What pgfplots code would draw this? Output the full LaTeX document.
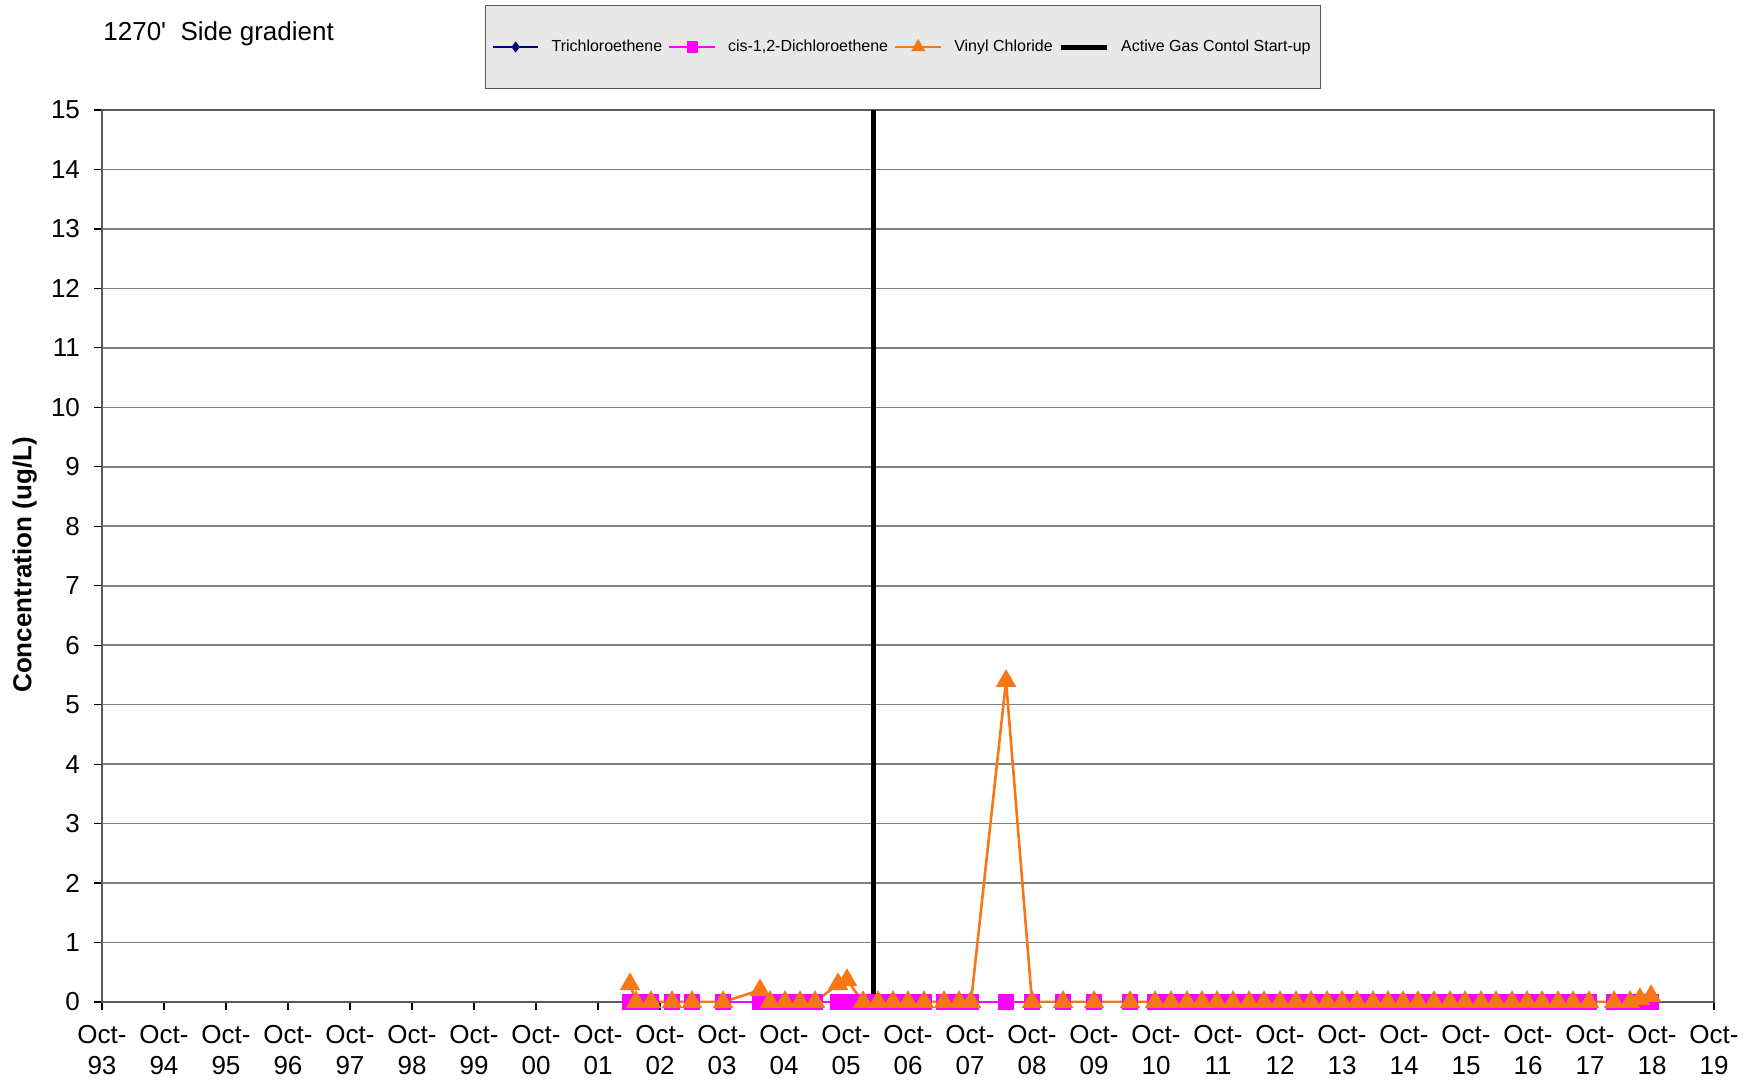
\documentclass[border=0pt]{standalone}
\usepackage{pgfplots}
\usepackage{pgfplotstable}
\pgfplotsset{compat=1.18}
\usepackage{fontspec}
\setmainfont{Liberation Sans}
\definecolor{tceblue}{RGB}{0,0,128}
\definecolor{dcemag}{RGB}{255,0,255}
\definecolor{vcorange}{RGB}{247,118,22}
\definecolor{gridgray}{RGB}{128,128,128}
\definecolor{legfill}{RGB}{232,232,232}

\pgfplotstableread{
x y
8.516 0
8.613 0
8.855 0
9.194 0
9.516 0
10.016 0
10.613 0
10.774 0
11.016 0
11.258 0
11.500 0
11.871 0
12.016 0
12.274 0
12.516 0
12.758 0
13.000 0
13.258 0
13.581 0
13.823 0
14.016 0
14.581 0
15.000 0
15.500 0
16.000 0
16.581 0
16.984 0
17.242 0
17.500 0
17.742 0
17.984 0
18.242 0
18.500 0
18.742 0
19.000 0
19.258 0
19.500 0
19.758 0
20.000 0
20.242 0
20.500 0
20.742 0
20.984 0
21.226 0
21.484 0
21.742 0
21.984 0
22.242 0
22.484 0
22.742 0
22.984 0
23.226 0
23.484 0
23.726 0
23.984 0
24.387 0
24.645 0
24.806 0
24.984 0
}\dcetable

\pgfplotstableread{
x y
8.516 0
8.613 0
8.855 0
9.194 0
9.516 0
10.016 0
10.613 0
10.774 0
11.016 0
11.258 0
11.500 0
11.871 0
12.016 0
12.274 0
12.516 0
12.758 0
13.000 0
13.258 0
13.581 0
13.823 0
14.016 0
14.581 0
15.000 0
15.500 0
16.000 0
16.581 0
16.984 0
17.242 0
17.500 0
17.742 0
17.984 0
18.242 0
18.500 0
18.742 0
19.000 0
19.258 0
19.500 0
19.758 0
20.000 0
20.242 0
20.500 0
20.742 0
20.984 0
21.226 0
21.484 0
21.742 0
21.984 0
22.242 0
22.484 0
22.742 0
22.984 0
23.226 0
23.484 0
23.726 0
23.984 0
24.387 0
24.645 0
24.806 0
24.984 0
}\tcetable

\pgfplotstableread{
x y
8.516 0.3
8.613 0
8.855 0
9.194 0
9.516 0
10.016 0
10.613 0.2
10.774 0
11.016 0
11.258 0
11.500 0
11.871 0.3
12.016 0.37
12.274 0
12.516 0
12.758 0
13.000 0
13.258 0
13.581 0
13.823 0
14.016 0
14.581 5.4
15.000 0
15.500 0
16.000 0
16.581 0
16.984 0
17.242 0
17.500 0
17.742 0
17.984 0
18.242 0
18.500 0
18.742 0
19.000 0
19.258 0
19.500 0
19.758 0
20.000 0
20.242 0
20.500 0
20.742 0
20.984 0
21.226 0
21.484 0
21.742 0
21.984 0
22.242 0
22.484 0
22.742 0
22.984 0
23.226 0
23.484 0
23.726 0
23.984 0
24.387 0
24.645 0
24.806 0.05
24.984 0.1
}\vctable

\begin{document}
\begin{tikzpicture}
\useasboundingbox (0,0) rectangle (877pt,541pt);
\node[anchor=west,font=\fontsize{13}{15}\selectfont,inner sep=0pt] at (51.5pt,524pt) {1270\textquotesingle\ \ Side gradient};
\begin{axis}[
  at={(51pt,40pt)}, anchor=south west,
  scale only axis, width=806pt, height=446pt,
  xmin=0, xmax=26, ymin=0, ymax=15,
  xtick={0,...,26},
  xticklabels={{Oct-\\93},{Oct-\\94},{Oct-\\95},{Oct-\\96},{Oct-\\97},{Oct-\\98},{Oct-\\99},{Oct-\\00},{Oct-\\01},{Oct-\\02},{Oct-\\03},{Oct-\\04},{Oct-\\05},{Oct-\\06},{Oct-\\07},{Oct-\\08},{Oct-\\09},{Oct-\\10},{Oct-\\11},{Oct-\\12},{Oct-\\13},{Oct-\\14},{Oct-\\15},{Oct-\\16},{Oct-\\17},{Oct-\\18},{Oct-\\19}},
  xticklabel style={align=center, font=\fontsize{13}{15.5}\selectfont, yshift=-4pt},
  ytick={0,...,15},
  yticklabel style={font=\fontsize{13}{15}\selectfont, xshift=-3.5pt},
  /pgf/number format/assume math mode=true,
  ymajorgrids, grid style={gridgray, line width=0.8pt},
  axis line style={gridgray!70!black, line width=0.8pt},
  tick align=outside, major tick length=4pt,
  xtick pos=bottom, ytick pos=left,
  tick style={black, line width=0.6pt},
  ylabel={\textbf{Concentration (ug/L)}},
  ylabel style={at={(axis description cs:-0.048,0.49)}, anchor=center, font=\fontsize{13}{15}\selectfont},
  legend columns=4,
  legend style={at={(0.497,1.0706)}, anchor=center, fill=legfill, draw=gridgray!70!black, line width=0.6pt,
    font=\fontsize{8}{10}\selectfont, inner xsep=3pt, inner ysep=15pt,
    /tikz/every even column/.append style={column sep=1pt},
    /tikz/every odd column/.append style={column sep=4pt}},
  legend image code/.code={\draw[mark repeat=2,mark phase=2,every mark/.append style={scale=0.6}] plot coordinates {(0cm,0cm)(0.4cm,0cm)(0.8cm,0cm)};},
]
\addplot[tceblue, line width=1.2pt, mark=diamond*, mark size=3pt, mark options={fill=tceblue}] table[x=x,y=y] {\tcetable};
\addlegendentry{Trichloroethene}
\addplot[dcemag, line width=1.2pt, mark=square*, mark size=3.6pt, mark options={fill=dcemag}] table[x=x,y=y] {\dcetable};
\addlegendentry{cis-1,2-Dichloroethene}
\addplot[vcorange, line width=1.3pt, mark=triangle*, mark size=4.6pt, mark options={fill=vcorange}] table[x=x,y=y] {\vctable};
\addlegendentry{Vinyl Chloride}
\addplot[black, line width=2.5pt] coordinates {(12.44,0) (12.44,15)};
\addlegendentry{Active Gas Contol Start-up}
\end{axis}
\end{tikzpicture}
\end{document}
